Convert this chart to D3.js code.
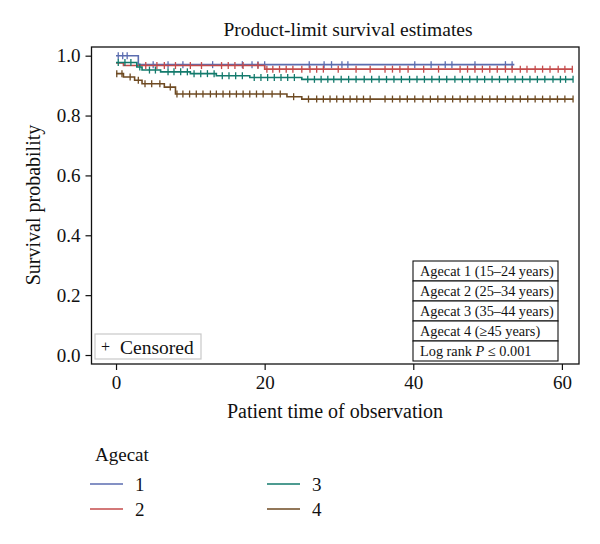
<!DOCTYPE html>
<html><head><meta charset="utf-8">
<script src="https://cdn.jsdelivr.net/npm/d3@7"></script>
<style>body{margin:0;background:#fff}svg{font-family:"Liberation Serif","DejaVu Serif",serif}</style>
</head><body><div id="c"></div>
<script>
const groups = ["1","2","3","4"];
const colors = ["#5b6db0","#c44b4b","#137a6c","#6e4a22"];
const stepTimes = [
  [0,3],
  [0,1,20],
  [0,2.8,3.5,6,10,13.5,18,25],
  [0,1,2.5,3.5,6.5,8,23,25]
];
const stepSurv = [
  [1.0,0.970],
  [0.976,0.967,0.955],
  [0.977,0.962,0.952,0.946,0.940,0.933,0.927,0.921],
  [0.940,0.929,0.918,0.906,0.895,0.872,0.863,0.855]
];
const endTimes = [53.6,61.5,61.5,61.5];
const censorTimes = [
  [0.3,0.9,1.5,5,7,9,13,17,18.3,19.1,20,26,28,29,30.4,31.2,40.2,42.4,44.3,45.2,48.3,52.4,53.3],
  [4,5.5,6.5,8,10,11.5,14.2,15.1,16,17.1,19.1,20.3,21.1,22,22.9,23.8,25,26.1,27,27.9,29.9,32.3,34.2,36.2,37.2,38.2,39.3,41.4,43.4,46.3,47.3,48.3,49.3,50.3,51.3,52.4,53.3,54.4,55.3,56.4,57.4,58.4,59.5,60.4,61.4],
  [0.3,1.2,2,3.2,4.5,5.3,7,7.8,8.7,9.6,10.5,11.4,12.3,13.2,14.3,15.2,16.1,17,18.6,19.5,20.4,21.3,22.2,23.1,24,25.8,26.7,27.6,28.5,29.3,30.3,31.3,32.3,33.4,34.4,35.4,36.4,37.4,38.4,39.5,40.5,41.5,42.5,43.5,44.5,45.6,46.6,47.6,48.6,49.6,50.6,51.6,52.7,53.7,54.7,55.7,56.7,57.7,58.8,59.8,60.5,61.5],
  [0.1,0.8,1.9,3,3.9,4.8,5.9,7.3,8.2,9,9.9,10.8,11.7,12.7,13.5,14.4,15.3,16.2,17.1,18,18.9,19.8,21,22.1,23.9,25.9,27,27.9,28.8,29.7,30.6,31.5,32.4,33.3,34.2,36.2,37.2,38.2,39.2,40.2,41.3,42.3,43.3,44.3,45.3,46.3,47.3,48.3,49.3,50.3,51.3,52.4,53.4,54.4,55.4,56.4,57.4,58.4,59.4,60.4,61.5]
];
const xTicks = [0,20,40,60];
const yTicks = [0,0.2,0.4,0.6,0.8,1.0];
const tableRows = ["Agecat 1 (15–24 years)","Agecat 2 (25–34 years)","Agecat 3 (35–44 years)","Agecat 4 (≥45 years)"];

const W=600,H=544;
const L=91.5,R=579,T=47,B=364;
const svg=d3.select("#c").append("svg").attr("width",W).attr("height",H);
const x=d3.scaleLinear().domain([-3.3,62.3]).range([L,R]);
const y=d3.scaleLinear().domain([-0.030,1.029]).range([B,T]);

svg.append("text").attr("x",348).attr("y",36).attr("text-anchor","middle").attr("font-size",19.5).attr("fill","#111").text("Product-limit survival estimates");

// axes
const ya=svg.append("g").attr("transform",`translate(${L},0)`).call(d3.axisLeft(y).tickValues(yTicks).tickFormat(d3.format(".1f")).tickSize(6).tickSizeOuter(0));
const xa=svg.append("g").attr("transform",`translate(0,${B})`).call(d3.axisBottom(x).tickValues(xTicks).tickSize(6).tickSizeOuter(0));
[ya,xa].forEach(a=>{a.select(".domain").remove();a.selectAll("line").attr("stroke","#111").attr("stroke-width",1.2);a.selectAll("text").attr("font-size",19).attr("fill","#111").attr("font-family","Liberation Serif, serif");});
ya.selectAll("text").attr("dx",-2);
xa.selectAll("text").attr("dy","0.85em");

svg.append("text").attr("transform",`translate(40,205) rotate(-90)`).attr("text-anchor","middle").attr("font-size",20).attr("fill","#111").text("Survival probability");
svg.append("text").attr("x",335).attr("y",418).attr("text-anchor","middle").attr("font-size",20).attr("fill","#111").text("Patient time of observation");

// curves
const line=d3.line().curve(d3.curveStepAfter).x(d=>x(d[0])).y(d=>y(d[1]));
groups.forEach((g,i)=>{
  const pts=stepTimes[i].map((t,j)=>[t,stepSurv[i][j]]);
  pts.push([endTimes[i],stepSurv[i][stepSurv[i].length-1]]);
  svg.append("path").attr("d",line(pts)).attr("fill","none").attr("stroke",colors[i]).attr("stroke-width",1.6);
  const sAt=t=>{let v=stepSurv[i][0];stepTimes[i].forEach((tt,j)=>{if(t>=tt)v=stepSurv[i][j];});return v;};
  svg.append("g").selectAll("line").data(censorTimes[i]).join("line")
    .attr("x1",d=>x(d)).attr("x2",d=>x(d)).attr("y1",d=>y(sAt(d))-3.5).attr("y2",d=>y(sAt(d))+3.5)
    .attr("stroke",colors[i]).attr("stroke-width",1.3);
});

// frame
svg.append("rect").attr("x",L).attr("y",T).attr("width",R-L).attr("height",B-T).attr("fill","none").attr("stroke","#111").attr("stroke-width",1.3);

// table
const tx=413,tw=145,ty=261,rh=20;
const rows=tableRows.concat(["LOG"]);
rows.forEach((r,i)=>{
  svg.append("rect").attr("x",tx).attr("y",ty+i*rh).attr("width",tw).attr("height",rh).attr("fill","#fff").attr("stroke","#111").attr("stroke-width",1.1);
  const t=svg.append("text").attr("x",tx+7).attr("y",ty+i*rh+15).attr("font-size",14.3).attr("fill","#111");
  if(r==="LOG"){t.append("tspan").text("Log rank ");t.append("tspan").attr("font-style","italic").text("P");t.append("tspan").text(" ≤ 0.001");}
  else t.text(r);
});

// censored box
svg.append("rect").attr("x",95).attr("y",334).attr("width",106).attr("height",25).attr("fill","#fff").attr("stroke","#c8c8c8").attr("stroke-width",1.2);
svg.append("text").attr("x",101).attr("y",352).attr("font-size",16).attr("fill","#111").text("+");
svg.append("text").attr("x",120).attr("y",353.5).attr("font-size",19.5).attr("fill","#111").text("Censored");

// bottom legend
svg.append("text").attr("x",95).attr("y",461).attr("font-size",19).attr("fill","#111").text("Agecat");
const lx=[90,267], ly=[484,509];
groups.forEach((g,i)=>{
  const cx=lx[Math.floor(i/2)], cy=ly[i%2];
  svg.append("line").attr("x1",cx).attr("x2",cx+33).attr("y1",cy).attr("y2",cy).attr("stroke",colors[i]).attr("stroke-width",1.6);
  svg.append("text").attr("x",cx+45).attr("y",cy+7).attr("font-size",19).attr("fill","#111").text(g);
});
</script></body></html>
